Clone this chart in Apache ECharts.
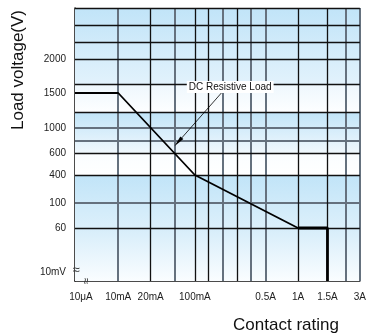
<!DOCTYPE html>
<html><head><meta charset="utf-8">
<script src="https://cdn.jsdelivr.net/npm/echarts@6/dist/echarts.min.js"></script>
<style>html,body{margin:0;padding:0;background:#fff}#c{width:369px;height:336px}</style>
</head><body><div id="c"></div>
<script>
// Tick labels and their positions on the (schematic, non-linear) axes
const xLabels = ['10μA','10mA','20mA','100mA','0.5A','1A','1.5A','3A'];
const xLabelPos = [0,44,77,122,194,227,257,290];
const yLabels = ['10mV','60','100','400','600','1000','1500','2000'];
const yLabelPos = [0,53,78,106,128,153,188,222];
// grid lines
const xGridBlack = [77,122,136,165,227,257];
const xGridGray = [44,102,150,179,194,276,290];
const yGridBlack = [53,106,128,169,197,222,239,256,273];
const yGridGray = [78,140,153];
// curve (current, voltage)
const curve = [['10μA','1500'],['10mA','1500'],['100mA','400'],['1A','60']];
const curveLimit = [['1A','60'],['1.5A','60'],['1.5A','10mV']];

const xOf = l => xLabelPos[xLabels.indexOf(l)];
const yOf = l => yLabelPos[yLabels.indexOf(l)];
const toXY = arr => arr.map(p => [xOf(p[0]), yOf(p[1])]);

const FONT = 'Liberation Sans, Arial, sans-serif';
const BLACK = '#111';
const GRAY = '#65717e';

function band(y0, y1, top, bottom) {
  return [{yAxis: y1, itemStyle: {color: {type:'linear', x:0, y:0, x2:0, y2:1,
    colorStops:[{offset:0,color:top},{offset:1,color:bottom}]}}}, {yAxis: y0}];
}

const chart = echarts.init(document.getElementById('c'), null, {renderer:'canvas'});
chart.setOption({
  animation: false,
  grid: {left: 75, top: 8, width: 290, height: 273},
  xAxis: {
    type: 'value', min: 0, max: 290,
    splitLine: {show: false}, axisTick: {show: false},
    axisLine: {show: true, lineStyle: {color: BLACK, width: 1.5}},
    axisLabel: {
      customValues: xLabelPos, margin: 11, fontSize: 10, color: '#222', fontFamily: FONT,
      formatter: v => {
        const i = xLabelPos.indexOf(v);
        if (i === 0) return '{a|' + xLabels[i] + '}';
        return i >= 0 ? xLabels[i] : '';
      },
      rich: {a: {padding: [0,0,0,12], fontSize: 10, color: '#222', fontFamily: FONT}}
    }
  },
  yAxis: {
    type: 'value', min: 0, max: 273,
    splitLine: {show: false}, axisTick: {show: false},
    axisLine: {show: true, lineStyle: {color: BLACK, width: 1.5}},
    axisLabel: {
      customValues: yLabelPos, margin: 9, fontSize: 10, color: '#222', fontFamily: FONT,
      formatter: v => {
        const i = yLabelPos.indexOf(v);
        if (i === 0) return '{a|' + yLabels[i] + '}';
        return i >= 0 ? yLabels[i] : '';
      },
      rich: {a: {padding: [0,0,18,0], fontSize: 10, color: '#222', fontFamily: FONT}}
    }
  },
  graphic: [
    {type:'text', x: 18, y: 70, rotation: Math.PI/2, style: {text:'Load voltage(V)', font: '17px ' + FONT, fill:'#111', align:'center', verticalAlign:'middle'}},
    {type:'text', x: 286, y: 325, style: {text:'Contact rating', font: '17px ' + FONT, fill:'#111', align:'center', verticalAlign:'middle'}}
  ],
  series: [
    {
      type: 'line', data: [], z: 1, silent: true,
      markArea: {silent: true, data: [
        band(197, 273, '#c1e4f8', '#e2f2fc'),
        band(169, 197, '#eef7fd', '#fdfeff'),
        band(128, 169, '#c1e4f8', '#f0f8fd'),
        band(106, 128, '#fafdff', '#ffffff'),
        band(53, 106, '#c1e4f8', '#dcf0fb'),
        band(0, 53, '#d6edfa', '#fafdff')
      ]}
    },
    {
      type: 'line', data: [], z: 2, silent: true,
      markLine: {silent: true, symbol: 'none', label: {show: false}, data: [
        ...xGridGray.map(v => ({xAxis: v, lineStyle: {color: GRAY, width: 2, type: 'solid'}})),
        ...yGridGray.map(v => ({yAxis: v, lineStyle: {color: GRAY, width: 2, type: 'solid'}})),
        ...xGridBlack.map(v => ({xAxis: v, lineStyle: {color: BLACK, width: 1.3, type: 'solid'}})),
        ...yGridBlack.map(v => ({yAxis: v, lineStyle: {color: BLACK, width: 1.3, type: 'solid'}}))
      ]}
    },
    {
      type: 'line', data: toXY(curve), z: 5, showSymbol: false, silent: true,
      lineStyle: {color: '#000', width: 1.8}
    },
    {
      type: 'line', data: toXY(curveLimit), z: 5, showSymbol: false, silent: true,
      lineStyle: {color: '#000', width: 2.8}
    },
    {
      type: 'line', data: [], z: 6, silent: true,
      markLine: {silent: true, symbol: ['none','path://M2.5,0 L5,14 L0,14 Z'], symbolSize: [4, 16],
        symbolKeepAspect: true,
        label: {show: false},
        itemStyle: {color: '#000'},
        lineStyle: {color: '#000', width: 0.8, type: 'solid'},
        data: [[{coord: [149, 188]}, {coord: [105, 139]}]]
      },
      markPoint: {silent: true, symbol: 'circle', symbolSize: 0, data: [
        {coord: [158, 194], label: {show: true, formatter: 'DC Resistive Load', fontSize: 10, color: '#111',
          fontFamily: FONT, backgroundColor: '#fff', padding: [1, 2, 1, 2]}},
        {coord: [0, 11], label: {show: true, formatter: '≈', fontSize: 13, color: '#333', fontFamily: FONT, offset: [1, 0]}},
        {coord: [11, 0], label: {show: true, formatter: '≈', fontSize: 12, color: '#333', fontFamily: FONT, rotate: 90, offset: [0, 1]}}
      ]}
    }
  ]
});
</script></body></html>
